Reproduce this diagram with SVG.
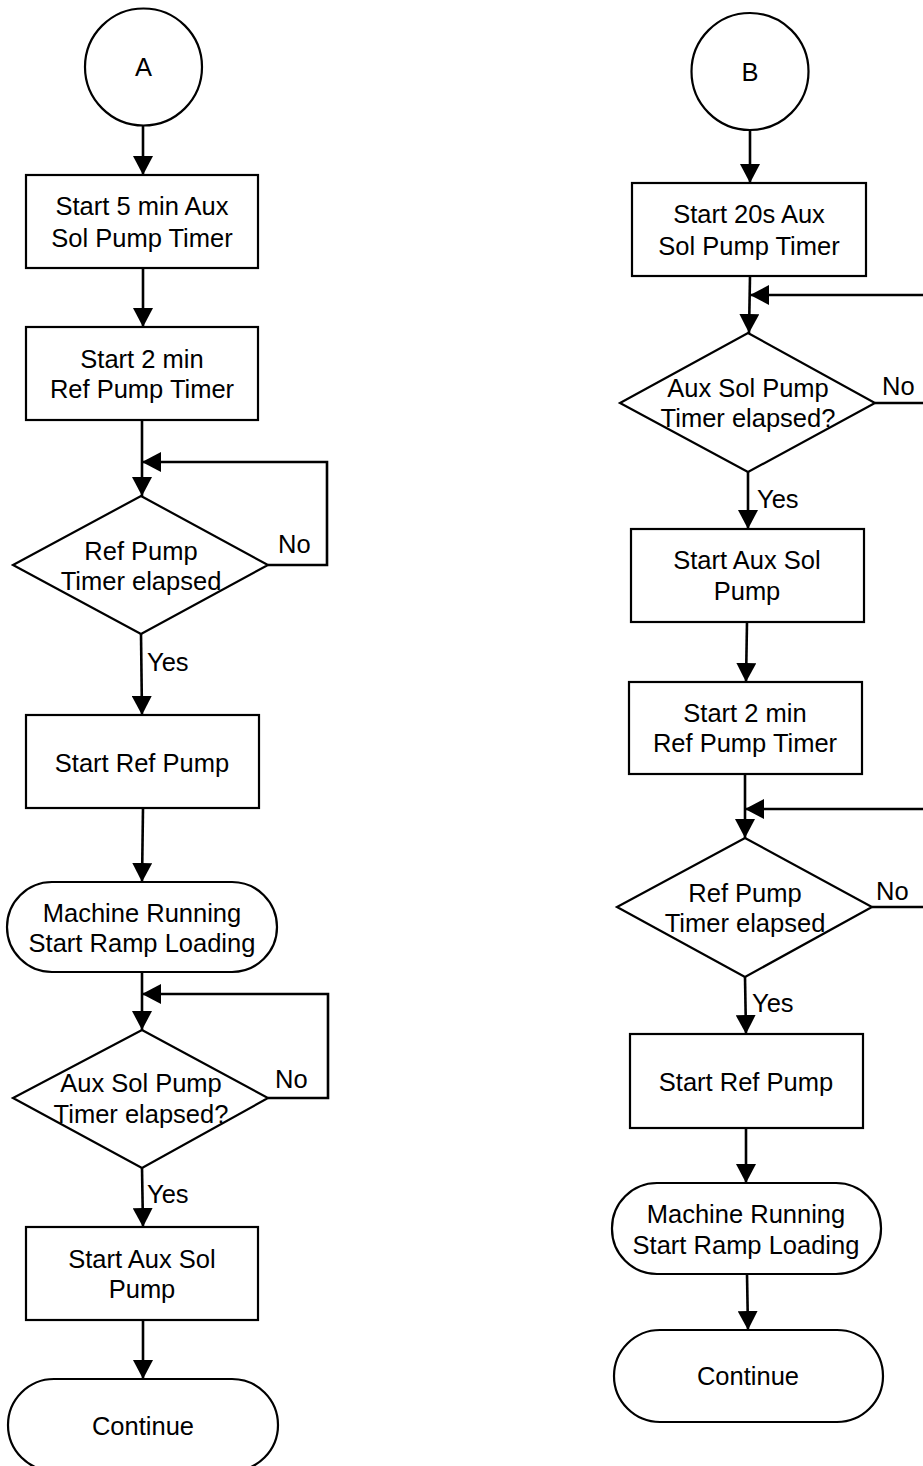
<svg xmlns="http://www.w3.org/2000/svg" width="923" height="1466" viewBox="0 0 923 1466">
<style>
.s{fill:#fff;stroke:#000;stroke-width:2.2}
.t{font-family:"Liberation Sans",Arial,sans-serif;font-size:25.5px;fill:#000;text-anchor:middle}
.l{font-family:"Liberation Sans",Arial,sans-serif;font-size:25.5px;fill:#000}
.c{fill:none;stroke:#000;stroke-width:2.6;marker-end:url(#ah)}
</style>
<defs>
<marker id="ah" markerUnits="userSpaceOnUse" viewBox="0 0 19 20" markerWidth="19" markerHeight="20" refX="19" refY="10" orient="auto">
<path d="M0,0 L19,10 L0,20 z" fill="#000"/>
</marker>
</defs>
<rect width="923" height="1466" fill="#fff"/>
<g id="connectors">
<path class="c" d="M143,126 V175"/>
<path class="c" d="M143,268 V327"/>
<path class="c" d="M142,420 V496"/>
<path class="c" d="M268,565 H327 V462 H142"/>
<path class="c" d="M141,634 L142,715"/>
<path class="c" d="M143,808 L142,882"/>
<path class="c" d="M142,972 V1030"/>
<path class="c" d="M268,1098 H328 V994 H142"/>
<path class="c" d="M142,1168 L143,1227"/>
<path class="c" d="M143,1320 V1379"/>
<path class="c" d="M750,130 V183"/>
<path class="c" d="M750,276 L749,333"/>
<path class="c" d="M875,403 H940 V295 H750"/>
<path class="c" d="M748,472 V529"/>
<path class="c" d="M747,622 L746,682"/>
<path class="c" d="M745,774 V838"/>
<path class="c" d="M872,907 H940 V809 H745"/>
<path class="c" d="M745,977 L746,1034"/>
<path class="c" d="M746,1128 V1183"/>
<path class="c" d="M747,1274 L748,1330"/>
<text class="l" x="278" y="553">No</text>
<text class="l" x="147" y="671">Yes</text>
<text class="l" x="275" y="1088">No</text>
<text class="l" x="147" y="1203">Yes</text>
<text class="l" x="882" y="395">No</text>
<text class="l" x="757" y="508">Yes</text>
<text class="l" x="876" y="900">No</text>
<text class="l" x="752" y="1012">Yes</text>
</g>
<g id="nodeA"><circle class="s" cx="143.5" cy="67" r="58.5"/><text class="t" x="143.5" y="76">A</text></g>
<g id="box1"><rect class="s" x="26" y="175" width="232" height="93"/><text class="t" x="142" y="215">Start 5 min Aux</text><text class="t" x="142" y="247">Sol Pump Timer</text></g>
<g id="box2"><rect class="s" x="26" y="327" width="232" height="93"/><text class="t" x="142" y="368">Start 2 min</text><text class="t" x="142" y="398">Ref Pump Timer</text></g>
<g id="dec1"><polygon class="s" points="141,496 268,565 141,634 13,565"/><text class="t" x="141" y="560">Ref Pump</text><text class="t" x="141" y="590">Timer elapsed</text></g>
<g id="box3"><rect class="s" x="26" y="715" width="233" height="93"/><text class="t" x="142" y="772">Start Ref Pump</text></g>
<g id="term1"><rect class="s" x="7" y="882" width="270" height="90" rx="45" ry="45"/><text class="t" x="142" y="922">Machine Running</text><text class="t" x="142" y="952">Start Ramp Loading</text></g>
<g id="dec2"><polygon class="s" points="142,1030 268,1098 142,1168 13,1098"/><text class="t" x="141" y="1092">Aux Sol Pump</text><text class="t" x="141" y="1123">Timer elapsed?</text></g>
<g id="box4"><rect class="s" x="26" y="1227" width="232" height="93"/><text class="t" x="142" y="1268">Start Aux Sol</text><text class="t" x="142" y="1298">Pump</text></g>
<g id="cont1"><rect class="s" x="8" y="1379" width="270" height="92" rx="46" ry="46"/><text class="t" x="143" y="1435">Continue</text></g>
<g id="nodeB"><circle class="s" cx="750" cy="71.5" r="58.5"/><text class="t" x="750" y="81">B</text></g>
<g id="box5"><rect class="s" x="632" y="183" width="234" height="93"/><text class="t" x="749" y="223">Start 20s Aux</text><text class="t" x="749" y="255">Sol Pump Timer</text></g>
<g id="dec3"><polygon class="s" points="748,333 875,403 748,472 620,403"/><text class="t" x="748" y="397">Aux Sol Pump</text><text class="t" x="748" y="427">Timer elapsed?</text></g>
<g id="box6"><rect class="s" x="631" y="529" width="233" height="93"/><text class="t" x="747" y="569">Start Aux Sol</text><text class="t" x="747" y="600">Pump</text></g>
<g id="box7"><rect class="s" x="629" y="682" width="233" height="92"/><text class="t" x="745" y="722">Start 2 min</text><text class="t" x="745" y="752">Ref Pump Timer</text></g>
<g id="dec4"><polygon class="s" points="745,838 872,907 745,977 617,907"/><text class="t" x="745" y="902">Ref Pump</text><text class="t" x="745" y="932">Timer elapsed</text></g>
<g id="box8"><rect class="s" x="630" y="1034" width="233" height="94"/><text class="t" x="746" y="1091">Start Ref Pump</text></g>
<g id="term2"><rect class="s" x="612" y="1183" width="269" height="91" rx="45" ry="45"/><text class="t" x="746" y="1223">Machine Running</text><text class="t" x="746" y="1254">Start Ramp Loading</text></g>
<g id="cont2"><rect class="s" x="614" y="1330" width="269" height="92" rx="46" ry="46"/><text class="t" x="748" y="1385">Continue</text></g>
</svg>
